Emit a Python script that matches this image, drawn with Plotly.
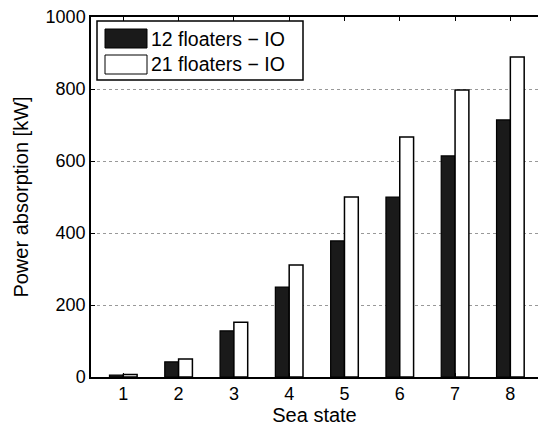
import plotly.graph_objects as go

sea_states = [1, 2, 3, 4, 5, 6, 7, 8]
floaters_12 = [5, 42, 128, 250, 378, 500, 614, 714]
floaters_21 = [7, 50, 152, 311, 500, 667, 797, 889]
series_names = ["12 floaters \u2212 IO", "21 floaters \u2212 IO"]
y_ticks = [0, 200, 400, 600, 800, 1000]

W, H = 538, 428
L, R, T, B = 91, 0, 17, 51
pw, ph = W - L - R, H - T - B

def px(x):
    return (x - L) / pw

def py(y):
    return (H - B - y) / ph

FAM = "Arial, Liberation Sans, sans-serif"
tickfont = dict(family=FAM, size=18, color="black")
titlefont = dict(family=FAM, size=20, color="black")
legfont = dict(family=FAM, size=19.5, color="black")

fig = go.Figure()
fig.add_trace(go.Bar(x=sea_states, y=floaters_12, name=series_names[0],
                     marker=dict(color="#1a1a1a", line=dict(color="black", width=1.2)),
                     showlegend=False))
fig.add_trace(go.Bar(x=sea_states, y=floaters_21, name=series_names[1],
                     marker=dict(color="white", line=dict(color="black", width=1.5)),
                     showlegend=False))

# manual legend
shapes = [
    dict(type="rect", xref="paper", yref="paper", x0=px(97), x1=px(303), y0=py(80), y1=py(21),
         line=dict(color="black", width=1.5), fillcolor="white", layer="above"),
    dict(type="rect", xref="paper", yref="paper", x0=px(105), x1=px(147), y0=py(48), y1=py(29),
         line=dict(color="black", width=1), fillcolor="#1a1a1a", layer="above"),
    dict(type="rect", xref="paper", yref="paper", x0=px(105), x1=px(147), y0=py(74), y1=py(55),
         line=dict(color="black", width=1), fillcolor="white", layer="above"),
]
annotations = [
    dict(xref="paper", yref="paper", x=px(149), y=py(39), text=series_names[0],
         showarrow=False, xanchor="left", yanchor="middle", font=legfont),
    dict(xref="paper", yref="paper", x=px(149), y=py(64), text=series_names[1],
         showarrow=False, xanchor="left", yanchor="middle", font=legfont),
]

fig.update_layout(
    width=W, height=H,
    margin=dict(l=L, r=R, t=T, b=B),
    paper_bgcolor="white", plot_bgcolor="white",
    barmode="group", bargap=0.5, bargroupgap=0,
    font=tickfont,
    shapes=shapes, annotations=annotations,
    xaxis=dict(range=[0.416, 8.5], tickvals=sea_states, ticktext=[str(s) for s in sea_states],
               ticks="inside", ticklen=4, tickcolor="black", showline=True, linecolor="black",
               linewidth=1.5, mirror="ticks", showgrid=False, zeroline=False,
               title=dict(text="Sea state", standoff=0, font=titlefont), tickfont=tickfont),
    yaxis=dict(range=[0, 1000], tickvals=y_ticks, ticks="inside", ticklen=4, tickcolor="black",
               showline=True, linecolor="black", linewidth=1.5, mirror=False,
               showgrid=True, gridcolor="#999999", griddash="dot", gridwidth=1, zeroline=False,
               title=dict(text="Power absorption [kW]", standoff=12, font=titlefont), tickfont=tickfont),
)

fig.write_html("out.html", config={"displayModeBar": False},
               post_script="document.body.style.margin='0';")
